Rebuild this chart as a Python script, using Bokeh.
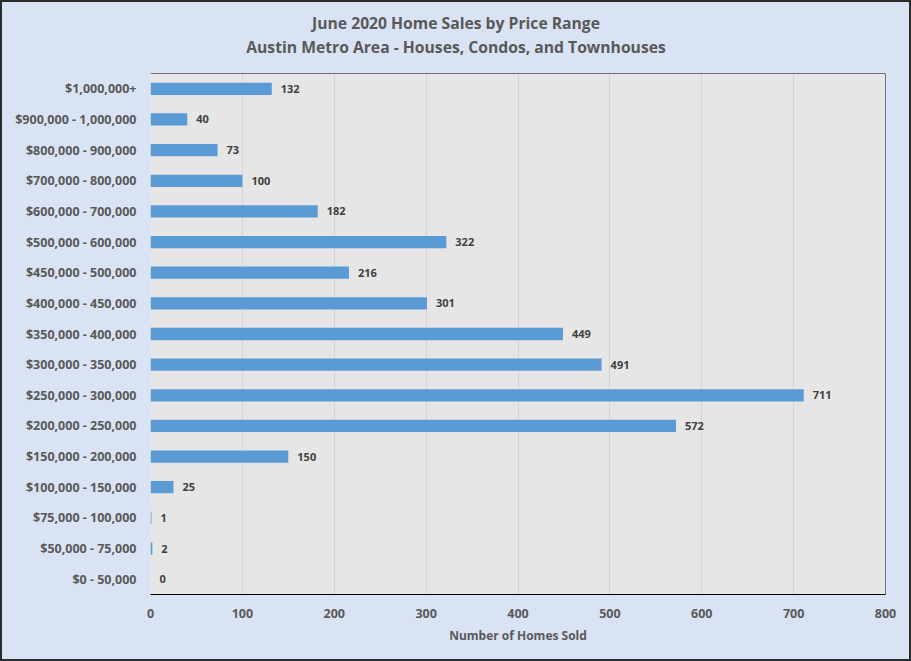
from bokeh.plotting import figure
from bokeh.models import ColumnDataSource, Label, Span, FixedTicker, LabelSet
from bokeh.layouts import column
from bokeh.core.properties import value
from bokeh.embed import file_html
from bokeh.resources import INLINE

# Data (bottom to top)
price_ranges = [
    "$0 - 50,000", "$50,000 - 75,000", "$75,000 - 100,000", "$100,000 - 150,000",
    "$150,000 - 200,000", "$200,000 - 250,000", "$250,000 - 300,000",
    "$300,000 - 350,000", "$350,000 - 400,000", "$400,000 - 450,000",
    "$450,000 - 500,000", "$500,000 - 600,000", "$600,000 - 700,000",
    "$700,000 - 800,000", "$800,000 - 900,000", "$900,000 - 1,000,000",
    "$1,000,000+",
]
homes_sold = [0, 2, 1, 25, 150, 572, 711, 491, 449, 301, 216, 322, 182, 100, 73, 40, 132]
x_ticks = [0, 100, 200, 300, 400, 500, 600, 700, 800]
x_max = 800

title_line1 = "June 2020 Home Sales by Price Range"
title_line2 = "Austin Metro Area - Houses, Condos, and Townhouses"
x_title = "Number of Homes Sold"

FONT = "Open Sans"
GRAY = "#595959"
BG = "#dae3f3"
BORDER = "2px solid #2b2b2b"

W = 907
TH = 70            # title strip height
H = 587            # chart height
ML, MR, MT, MB = 148, 24, 1, 65

# ---- title strip -------------------------------------------------------
tp = figure(width=W, height=TH, output_backend="svg", toolbar_location=None,
            x_axis_location=None, y_axis_location=None,
            min_border=0, min_border_left=0, min_border_right=0,
            min_border_top=0, min_border_bottom=0)
tp.title = None
tp.grid.visible = False
tp.outline_line_color = None
tp.background_fill_color = BG
tp.border_fill_color = BG
# frames of the column are aligned, so x is measured from the chart's frame
for txt, y_from_top in [(title_line1, 20), (title_line2, 44)]:
    tp.add_layout(Label(x=W / 2 - ML, y=TH - y_from_top, x_units="screen",
                        y_units="screen", text=txt, text_align="center",
                        text_baseline="middle", text_font=FONT,
                        text_font_size="15.7px", text_font_style="bold",
                        text_color=GRAY))

# ---- chart -------------------------------------------------------------
source = ColumnDataSource(dict(cat=price_ranges, val=homes_sold,
                               lbl=[str(v) for v in homes_sold]))

p = figure(width=W, height=H, y_range=price_ranges, x_range=(0, x_max),
           output_backend="svg", toolbar_location=None,
           min_border_left=ML, min_border_right=MR, min_border_top=MT,
           min_border_bottom=MB)
p.title = None

p.background_fill_color = "#e7e6e6"
p.border_fill_color = BG
p.outline_line_color = None

p.hbar(y="cat", right="val", left=0, height=0.4, source=source,
       color="#5b9bd5", line_color=None)

labels = LabelSet(x="val", y="cat", text="lbl", source=source, x_offset=9,
                  text_align="left", text_baseline="middle",
                  text_font=value(FONT), text_font_size="11px",
                  text_font_style="bold", text_color="#404040")
p.add_layout(labels)

p.xaxis.ticker = FixedTicker(ticks=x_ticks)
p.xaxis.axis_line_color = "black"
p.xaxis.axis_line_width = 1
p.xaxis.major_tick_line_color = None
p.xaxis.minor_tick_line_color = None
p.xaxis.major_label_text_font = FONT
p.xaxis.major_label_text_font_size = "12.5px"
p.xaxis.major_label_text_font_style = "bold"
p.xaxis.major_label_text_color = GRAY
p.xaxis.major_label_standoff = 8
p.xaxis.axis_label = x_title
p.xaxis.axis_label_text_font = FONT
p.xaxis.axis_label_text_font_size = "12px"
p.xaxis.axis_label_text_font_style = "bold"
p.xaxis.axis_label_text_color = GRAY
p.xaxis.axis_label_standoff = 6

p.yaxis.axis_line_color = None
p.yaxis.major_tick_line_color = None
p.yaxis.minor_tick_line_color = None
p.yaxis.major_label_text_font = FONT
p.yaxis.major_label_text_font_size = "12.5px"
p.yaxis.major_label_text_font_style = "bold"
p.yaxis.major_label_text_color = GRAY
p.yaxis.major_label_standoff = 8

p.xgrid.grid_line_color = "#d4d4d4"
p.ygrid.grid_line_color = None

# Frame border on top and right
p.add_layout(Span(location=len(price_ranges), dimension="width",
                  line_color="black", line_width=1))
p.add_layout(Span(location=x_max, dimension="height",
                  line_color="black", line_width=1))

layout = column(tp, p, spacing=0,
                styles={"border": BORDER, "background-color": BG})
open("out.html", "w").write(file_html(layout, INLINE))
